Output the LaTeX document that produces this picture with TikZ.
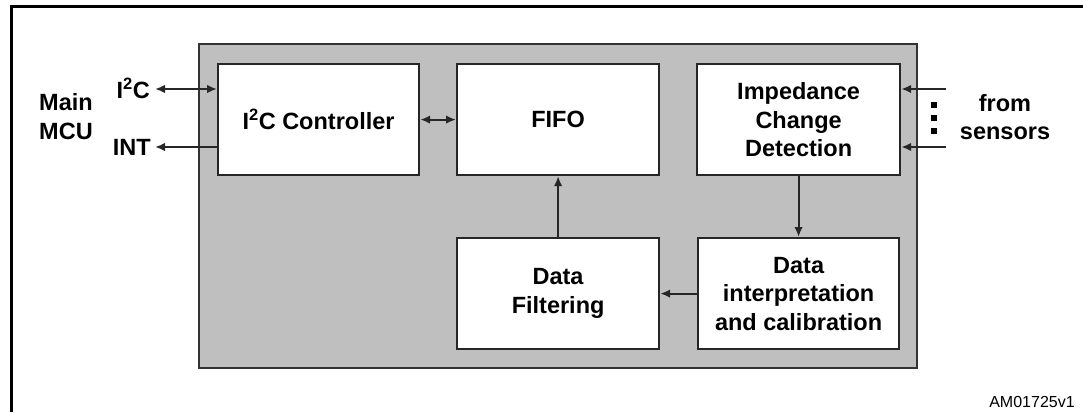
\documentclass[tikz,border=0pt]{standalone}
\usepackage{fontspec}
\setmainfont{Liberation Sans}
\usetikzlibrary{arrows.meta}
\begin{document}
\begin{tikzpicture}[x=1pt,y=-1pt,
  blk/.style={draw=black!85,line width=2.2pt,fill=white,inner sep=0pt},
  lbl/.style={font=\fontsize{23.5}{28.5}\selectfont\bfseries,align=center,inner sep=0pt},
  conn/.style={line width=2pt,draw=black!85,-{Latex[length=10pt,width=8.5pt]}},
  bconn/.style={line width=2pt,draw=black!85,{Latex[length=10pt,width=8.5pt]}-{Latex[length=10pt,width=8.5pt]}}]
\useasboundingbox (0,0) rectangle (1083,412);
\draw[line width=3pt] (11,412) -- (11,7) -- (1083,7);
\node[draw=black!80,line width=2.2pt,fill=black!25,minimum width=718pt,minimum height=324pt,anchor=north west] (chip) at (198,43) {};
\node[blk,minimum width=201pt,minimum height=111pt,anchor=north west] (ctrl) at (217,63) {};
\node[lbl] at (ctrl.center) {I\textsuperscript{2}C Controller};
\node[blk,minimum width=202pt,minimum height=111pt,anchor=north west] (fifo) at (456,63) {};
\node[lbl] at (fifo.center) {FIFO};
\node[blk,minimum width=203pt,minimum height=111pt,anchor=north west] (imp) at (696,63) {};
\node[lbl] at (imp.center) {Impedance\\Change\\Detection};
\node[blk,minimum width=202pt,minimum height=111pt,anchor=north west] (filt) at (456,237) {};
\node[lbl] at (filt.center) {Data\\Filtering};
\node[blk,minimum width=201pt,minimum height=111pt,anchor=north west] (interp) at (697,237) {};
\node[lbl] at (interp.center) {Data\\interpretation\\and calibration};
% left side
\coordinate (i2cend) at (155,89);
\coordinate (intend) at (155,147);
\node[lbl,anchor=east] (i2clbl) at (150,88) {I\textsuperscript{2}C};
\node[lbl,anchor=east] (intlbl) at (151,147) {INT};
\node[lbl] (mcu) at (66,116.5) {Main\\MCU};
\draw[bconn] (i2cend) -- (i2cend -| ctrl.west);
\draw[conn] (intend -| ctrl.west) -- (intend);
\draw[bconn] (ctrl.east) -- (fifo.west);
\draw[conn] (filt.north) -- (fifo.south);
\draw[conn] (imp.south -| interp.north) -- (interp.north);
\draw[conn] (interp.west) -- (filt.east);
% sensors
\coordinate (s1) at (946,89);
\coordinate (s2) at (946,147);
\draw[conn] (s1) -- (s1 -| imp.east);
\draw[conn] (s2) -- (s2 -| imp.east);
\foreach \yy in {105,118,131} \fill (931,\yy-3) rectangle (937,\yy+3);
\node[lbl] (sens) at (1005,117) {from\\sensors};
\node[font=\fontsize{16}{18}\selectfont,inner sep=0pt] (code) at (1032,402) {AM01725v1};
\end{tikzpicture}
\end{document}
